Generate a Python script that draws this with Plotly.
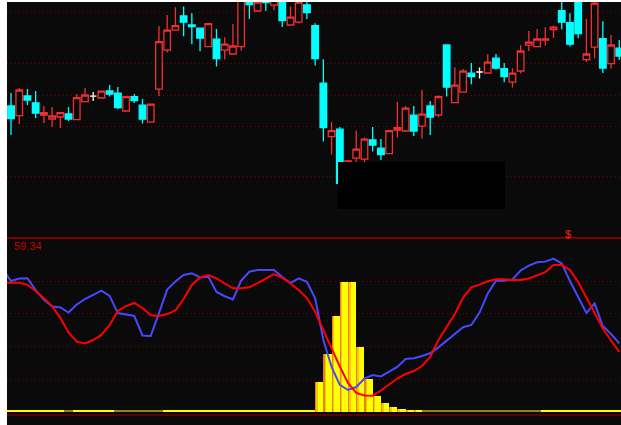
import plotly.graph_objects as go

# ---------------- data ----------------
days = list(range(75))

open_ = [14.70, 14.22, 15.20, 14.85, 14.25, 14.05, 14.15, 14.30, 14.02, 14.92,
         15.19, 15.10, 15.45, 15.34, 14.45, 15.17, 14.74, 13.89, 15.54, 17.49,
         18.49, 19.20, 18.75, 18.59, 17.67, 18.04, 17.49, 17.30, 17.67, 20.30,
         19.45, 20.20, 19.74, 20.10, 18.75, 18.89, 19.75, 18.72, 15.84, 13.17,
         13.54, 11.10, 12.09, 12.04, 13.00, 12.59, 12.32, 13.50, 13.45, 14.24,
         13.69, 14.70, 14.25, 17.75, 14.87, 15.39, 16.34, 16.40, 16.35, 17.09,
         16.57, 15.89, 16.45, 17.74, 17.67, 18.00, 18.52, 19.47, 18.87, 20.20,
         17.02, 17.64, 18.07, 16.82, 17.59]
high = [15.35, 15.60, 15.55, 15.45, 14.70, 14.65, 14.40, 14.65, 15.30, 15.60,
        15.40, 15.47, 15.75, 15.65, 15.20, 15.30, 15.05, 14.82, 18.70, 19.25,
        19.64, 19.67, 19.34, 18.60, 18.83, 18.55, 18.14, 18.80, 20.40, 20.50,
        20.15, 20.40, 20.30, 20.25, 19.67, 20.20, 20.10, 18.84, 17.04, 13.90,
        13.65, 12.00, 13.47, 13.12, 13.65, 13.05, 13.50, 14.90, 14.70, 14.70,
        15.50, 14.95, 15.22, 17.76, 16.64, 16.55, 16.85, 16.62, 17.29, 17.30,
        16.85, 16.59, 17.74, 18.45, 18.55, 18.64, 18.72, 19.90, 19.34, 20.30,
        19.05, 20.15, 18.94, 18.25, 18.00]
low = [13.25, 13.80, 14.75, 14.10, 13.85, 13.65, 13.60, 13.95, 14.00, 14.90,
       14.95, 15.07, 15.17, 14.55, 14.42, 14.85, 13.82, 13.88, 15.20, 17.37,
       18.48, 18.19, 17.79, 17.44, 17.66, 16.67, 17.02, 17.29, 17.47, 19.05,
       19.40, 19.45, 19.49, 18.65, 18.74, 18.83, 19.05, 16.72, 12.92, 12.27,
       10.80, 10.75, 11.75, 11.70, 12.42, 12.00, 12.30, 13.12, 13.43, 13.20,
       13.07, 13.25, 14.14, 15.17, 14.85, 15.38, 15.79, 16.07, 16.34, 16.52,
       15.89, 15.62, 16.34, 17.45, 17.65, 17.72, 18.10, 18.54, 17.67, 18.09,
       16.90, 17.09, 16.35, 16.57, 17.00]
close = [14.07, 15.50, 15.00, 14.35, 14.37, 14.20, 14.37, 14.05, 15.12, 15.25,
         15.19, 15.44, 15.29, 14.62, 15.17, 14.97, 14.04, 14.79, 17.92, 18.49,
         18.72, 18.89, 18.67, 18.10, 18.82, 17.07, 17.79, 17.70, 20.25, 19.77,
         19.90, 19.87, 20.15, 18.97, 19.14, 19.89, 19.37, 17.07, 13.62, 13.47,
         10.83, 11.95, 12.54, 13.04, 12.75, 12.27, 13.47, 13.62, 14.59, 13.45,
         14.29, 14.14, 15.17, 15.65, 15.74, 16.44, 16.17, 16.40, 16.89, 16.59,
         16.17, 16.34, 17.45, 17.89, 18.05, 18.05, 18.64, 18.89, 17.79, 18.32,
         17.30, 19.84, 16.60, 17.75, 17.20]

price_grid = [19.38, 16.83, 15.25, 13.70, 11.17]

# indicator lines (first value = day before the window)
line_days = list(range(-1, 75))
k_line = [87.4, 80.0, 81.6, 81.7, 74.5, 68.7, 64.4, 63.9, 60.7, 65.6, 69.0,
          71.8, 74.2, 70.9, 60.4, 59.5, 58.6, 46.7, 46.4, 60.4, 74.8,
          79.7, 83.7, 84.8, 82.2, 82.7, 73.3, 70.7, 68.7, 80.3, 85.7,
          86.8, 86.8, 86.8, 82.5, 78.8, 81.7, 79.6, 69.4, 43.9, 27.4,
          16.4, 13.3, 15.1, 20.3, 22.5, 21.6, 24.3, 27.4, 32.3, 32.7,
          34.1, 35.8, 39.4, 43.5, 47.6, 51.7, 53.1, 60.7, 72.4, 80.2,
          80.2, 81.0, 86.5, 89.5, 91.5, 91.9, 93.8, 90.8, 80.0, 70.5,
          60.4, 66.3, 52.5, 47.6, 41.8]
d_line = [79.0, 79.0, 79.0, 77.7, 73.9, 69.4, 64.7, 57.5, 48.5, 42.9, 41.8,
          43.9, 47.0, 53.1, 61.7, 64.7, 66.6, 63.5, 59.0, 58.6, 59.8,
          62.0, 69.0, 77.6, 82.2, 83.7, 81.7, 78.5, 75.6, 75.6, 76.2,
          78.8, 81.6, 84.3, 81.9, 78.5, 74.5, 69.6, 61.2, 50.0, 38.8,
          27.7, 17.6, 11.5, 9.9, 9.8, 13.0, 16.7, 20.3, 23.1, 24.9,
          28.0, 33.5, 43.9, 51.7, 59.8, 69.9, 76.2, 77.8, 79.9, 81.1,
          81.1, 80.6, 80.6, 81.6, 83.4, 85.5, 89.8, 89.8, 86.8, 79.4,
          69.9, 60.7, 50.9, 43.6, 36.6]
ind_grid = [20, 40, 60, 80]

burst_days = [37, 38, 39, 40, 41, 42, 43, 44, 45, 46, 47, 48, 49]
burst_values = [18.0, 35.3, 58.6, 79.2, 79.2, 39.6, 20.0, 9.8, 5.5, 2.7, 1.5, 0.9, 0.5]

base_level = 1.0
weak_days = [7, 13, 14, 15, 16, 17, 18] + list(range(50, 65))

indicator_value = "59.34"
signal_text = "$"

# ---------------- figure ----------------
BG = "#0a0a0a"
RED = "#f03030"
CYAN = "#00ffff"
GRID = "#7a0000"

up = [i for i in days if close[i] > open_[i]]
down = [i for i in days if close[i] < open_[i]]
flat = [i for i in days if close[i] == open_[i]]


def sub(lst, idx):
    return [lst[i] for i in idx]


fig = go.Figure()

for idx, lc, fc in [(up, RED, BG), (down, CYAN, CYAN), (flat, "#ffffff", "#ffffff")]:
    fig.add_trace(go.Candlestick(
        x=idx, open=sub(open_, idx), high=sub(high, idx), low=sub(low, idx), close=sub(close, idx),
        increasing=dict(line=dict(color=lc, width=1.3), fillcolor=fc),
        decreasing=dict(line=dict(color=lc, width=1.3), fillcolor=fc),
        whiskerwidth=0, xaxis="x", yaxis="y", hoverinfo="skip", showlegend=False,
    ))

# baseline signal bars
strong_days = [d for d in days if d not in weak_days]
fig.add_trace(go.Bar(x=strong_days, y=[base_level] * len(strong_days), width=1,
                     marker=dict(color="#ffff00", line=dict(width=0)),
                     xaxis="x2", yaxis="y2", hoverinfo="skip", showlegend=False))
fig.add_trace(go.Bar(x=weak_days, y=[base_level] * len(weak_days), width=1,
                     marker=dict(color="#8a8a10", line=dict(width=0)),
                     xaxis="x2", yaxis="y2", hoverinfo="skip", showlegend=False))

# burst histogram with shaded look
for col, off, w in [("#e08800", 0.0, 1.0), ("#ffc400", 0.14, 0.86), ("#ffff00", 0.32, 0.68)]:
    fig.add_trace(go.Bar(x=burst_days, y=burst_values, width=w, offset=off,
                         marker=dict(color=col, line=dict(width=0)),
                         xaxis="x2", yaxis="y2", hoverinfo="skip", showlegend=False))

fig.add_trace(go.Scatter(x=line_days, y=k_line, mode="lines",
                         line=dict(color="#4848ff", width=2),
                         xaxis="x2", yaxis="y2", hoverinfo="skip", showlegend=False))
fig.add_trace(go.Scatter(x=line_days, y=d_line, mode="lines",
                         line=dict(color="#ff0000", width=2),
                         xaxis="x2", yaxis="y2", hoverinfo="skip", showlegend=False))

W, H = 621, 425
ML, MR, MT, MB = 7, 0, 2, 0
split = (H - 238) / (H - MT - MB)
xr = [-0.487, 74.21]

axis_common = dict(showticklabels=False, ticks="", zeroline=False, showline=False, fixedrange=True)

fig.update_layout(
    width=W, height=H,
    margin=dict(l=ML, r=MR, t=MT, b=MB, pad=0),
    paper_bgcolor="#ffffff", plot_bgcolor=BG,
    barmode="overlay", boxmode="overlay", boxgap=0.2, boxgroupgap=0, bargap=0,
    showlegend=False,
    xaxis=dict(domain=[0, 1], anchor="y", range=xr, showgrid=False,
               rangeslider=dict(visible=False), **axis_common),
    yaxis=dict(domain=[split, 1], anchor="x", range=[8.1, 19.9],
               tickmode="array", tickvals=price_grid, showgrid=True,
               gridcolor=GRID, gridwidth=1, griddash="1px,3px", **axis_common),
    xaxis2=dict(domain=[0, 1], anchor="y2", range=xr, showgrid=False, **axis_common),
    yaxis2=dict(domain=[0, split], anchor="x2", range=[-8.14, 106.37],
                tickmode="array", tickvals=ind_grid, showgrid=True,
                gridcolor=GRID, gridwidth=1, griddash="1px,3px", **axis_common),
    shapes=[
        # watermark box
        dict(type="rect", xref="paper", yref="paper",
             x0=(338 - ML) / (W - ML - MR), x1=(505 - ML) / (W - ML - MR),
             y0=(H - 209) / (H - MT), y1=(H - 162) / (H - MT),
             fillcolor="#000000", line=dict(width=0), layer="above"),
        # panel separator
        dict(type="line", xref="paper", yref="paper", x0=0, x1=1, y0=split, y1=split,
             line=dict(color="#7a0000", width=2), layer="above"),
        # lower border line
        dict(type="line", xref="paper", yref="paper", x0=0, x1=1,
             y0=(H - 415) / (H - MT), y1=(H - 415) / (H - MT),
             line=dict(color="#5a0000", width=2), layer="above"),
    ],
    annotations=[
        dict(text=indicator_value, xref="paper", yref="paper",
             x=(11.5 - ML) / (W - ML - MR), y=(H - 246) / (H - MT),
             xanchor="left", yanchor="middle", showarrow=False,
             font=dict(family="Liberation Sans, Arial", size=11, color="#c80000")),
        dict(text=signal_text, xref="paper", yref="paper",
             x=(567.5 - ML) / (W - ML - MR), y=(H - 233.5) / (H - MT),
             xanchor="center", yanchor="middle", showarrow=False,
             font=dict(family="Liberation Sans, Arial", size=11, color="#ff2020")),
    ],
)

fig.write_html("out.html", config=dict(displayModeBar=False),
               post_script="document.body.style.margin='0';document.body.style.padding='0';")
